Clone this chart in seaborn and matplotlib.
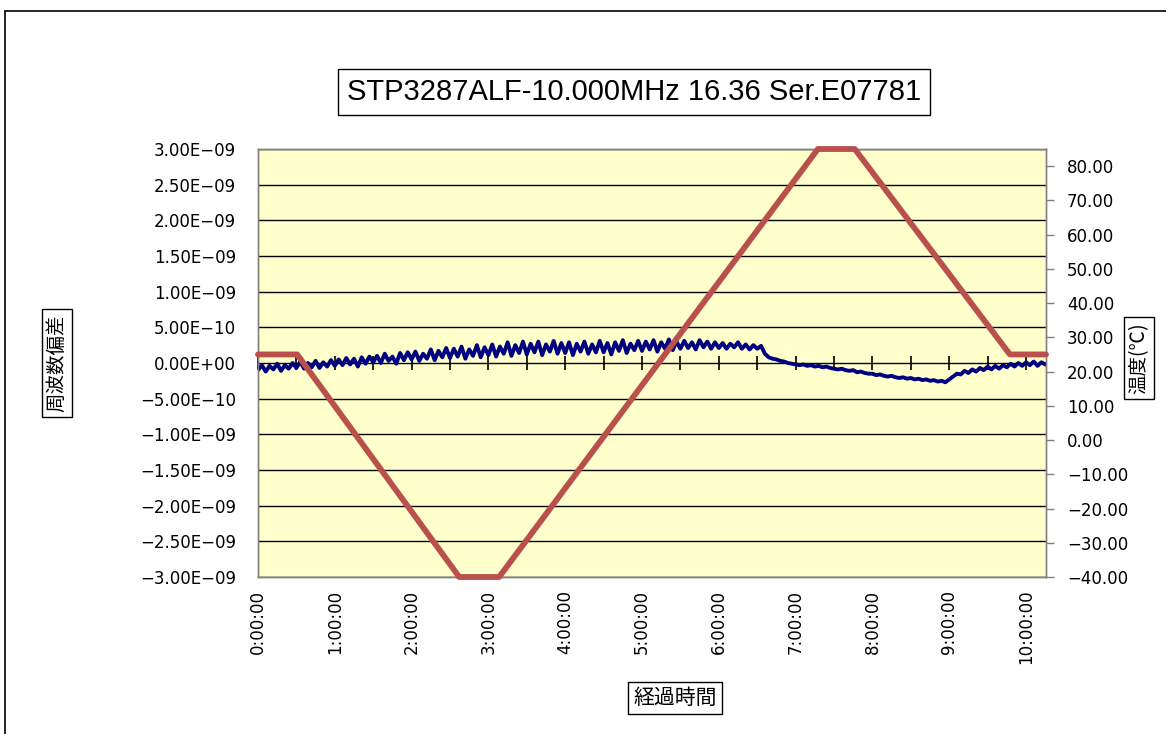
import numpy as np
import pandas as pd
import matplotlib
matplotlib.use("Agg")
import matplotlib.pyplot as plt
import seaborn as sns
from matplotlib.ticker import FixedLocator, FuncFormatter
from matplotlib.lines import Line2D

sns.set_theme(style="white")
plt.rcParams['font.family'] = ['DejaVu Sans', 'Noto Sans CJK JP']
plt.rcParams['axes.unicode_minus'] = True
plt.rcParams['text.color'] = 'black'
plt.rcParams['xtick.color'] = 'black'
plt.rcParams['ytick.color'] = 'black'
plt.rcParams['xtick.labelcolor'] = 'black'
plt.rcParams['ytick.labelcolor'] = 'black'

# ---------------- data ----------------
title = "STP3287ALF-10.000MHz 16.36 Ser.E07781"
y_left_label = "周波数偏差"
y_right_label = "温度(℃)"
x_label = "経過時間"

sample_step_h = 0.05  # one reading every 3 minutes
# frequency deviation, units of 1e-10, rows of 0.5 h
freq_dev_e10 = [
    -1.0, -0.3, -1.2, -0.4, -0.9, -0.1, -1.1, -0.3, -0.8, 0.0,
    -0.7, 0.2, -0.8, 0.0, -0.6, 0.3, -0.7, 0.1, -0.5, 0.4,
    -0.4, 0.5, -0.3, 0.7, -0.2, 0.6, -0.5, 0.8, -0.1, 0.9,
    0.1, 1.0, 0.0, 1.3, 0.3, 0.9, -0.1, 1.4, 0.4, 1.5,
    0.5, 1.6, 0.3, 1.3, 0.6, 1.9, 0.4, 1.7, 0.8, 2.1,
    0.7, 2.0, 0.9, 2.3, 0.6, 1.9, 1.0, 2.5, 0.8, 2.2,
    1.1, 2.6, 0.9, 2.3, 1.3, 2.9, 1.0, 2.5, 1.4, 3.0,
    1.2, 2.7, 1.5, 3.0, 1.1, 2.6, 1.6, 3.1, 1.3, 2.8,
    1.4, 2.9, 1.1, 2.7, 1.6, 3.0, 1.3, 2.6, 1.5, 3.1,
    1.5, 2.8, 1.2, 2.9, 1.7, 3.2, 1.4, 2.7, 1.8, 3.1,
    1.7, 3.0, 1.9, 3.2, 1.6, 2.9, 2.0, 3.3, 1.8, 3.0,
    2.0, 3.1, 2.1, 2.9, 1.9, 3.2, 2.2, 3.0, 2.0, 2.9,
    2.1, 2.8, 2.0, 2.7, 2.2, 2.9, 2.0, 2.6, 1.9, 2.5,
    2.0, 2.4, 1.3, 0.8, 0.6, 0.5, 0.3, 0.2, 0.0, -0.1,
    -0.2, -0.3, -0.2, -0.4, -0.3, -0.5, -0.4, -0.6, -0.5, -0.7,
    -0.8, -0.9, -0.8, -1.0, -1.1, -1.0, -1.3, -1.2, -1.4, -1.5,
    -1.5, -1.7, -1.6, -1.8, -1.9, -1.8, -2.0, -2.1, -2.0, -2.2,
    -2.1, -2.3, -2.2, -2.4, -2.3, -2.5, -2.4, -2.6, -2.5, -2.7,
    -2.3, -1.9, -1.5, -1.6, -1.1, -1.4, -0.9, -1.2, -0.7, -1.0,
    -0.5, -0.9, -0.4, -0.8, -0.3, -0.6, -0.1, -0.5, 0.0, -0.4,
    0.1, -0.3, 0.2, -0.4, 0.1, -0.2,
]
temp_time_h = [0.0, 0.51, 2.62, 3.14, 7.29, 7.77, 9.79, 10.26]
temp_c = [25, 25, -40, -40, 85, 85, 25, 25]

hour_ticks = list(range(0, 11))
hour_labels = [f"{h}:00:00" for h in hour_ticks]
left_ticks = [-3e-9, -2.5e-9, -2e-9, -1.5e-9, -1e-9, -5e-10, 0.0,
              5e-10, 1e-9, 1.5e-9, 2e-9, 2.5e-9, 3e-9]
right_ticks = [-40, -30, -20, -10, 0, 10, 20, 30, 40, 50, 60, 70, 80]

freq_df = pd.DataFrame({
    "time_h": np.arange(len(freq_dev_e10)) * sample_step_h,
    "freq": np.array(freq_dev_e10) * 1e-10,
})
temp_df = pd.DataFrame({"time_h": temp_time_h, "temp": temp_c})

# ---------------- figure ----------------
W, H = 1166, 734
fig = plt.figure(figsize=(W / 100, H / 100), dpi=100)
fig.patch.set_facecolor("white")

L, R, T, B = 258, 1046, 149, 577
ax = fig.add_axes([L / W, 1 - B / H, (R - L) / W, (B - T) / H])
ax.set_facecolor("#FFFFCC")

sns.lineplot(data=freq_df, x="time_h", y="freq", ax=ax, color="#000080",
             linewidth=2.8, zorder=3)
ax.set_xlim(0, 10.26)
ax.set_ylim(-3e-9, 3e-9)
ax.yaxis.set_major_locator(FixedLocator(left_ticks))
ax.yaxis.set_major_formatter(FuncFormatter(
    lambda v, p: f"{v:.2E}".replace("-", "\u2212")))
ax.xaxis.set_major_locator(FixedLocator(hour_ticks))
ax.set_xticklabels(hour_labels)
ax.grid(axis="y", color="black", linewidth=1.0)
ax.grid(axis="x", visible=False)
ax.set_axisbelow(True)
ax.tick_params(axis="x", length=0, pad=9, labelrotation=90, labelsize=12)
ax.tick_params(axis="y", length=0, pad=16, labelsize=12)
ax.set_xlabel("")
ax.set_ylabel("")
for s in ax.spines.values():
    s.set_color("#808080")
    s.set_linewidth(1.0)

# axis crossing at zero with half-hour tick marks
sec = ax.secondary_xaxis(0.5)
sec.xaxis.set_major_locator(FixedLocator(np.arange(0, 10.5, 0.5)))
sec.tick_params(axis="x", direction="inout", length=10, width=1.2,
                color="black", labelbottom=False, labeltop=False)
for s in sec.spines.values():
    s.set_visible(False)

ax2 = ax.twinx()
sns.lineplot(data=temp_df, x="time_h", y="temp", ax=ax2, color="#B9504C",
             linewidth=4.2, zorder=4, clip_on=False)
ax2.set_ylim(-40, 85)
ax2.yaxis.set_major_locator(FixedLocator(right_ticks))
ax2.yaxis.set_major_formatter(FuncFormatter(
    lambda v, p: f"{v:.2f}".replace("-", "\u2212")))
ax2.tick_params(axis="y", direction="out", length=6, width=1, color="#808080",
                pad=9, labelsize=12)
ax2.set_ylabel("")
ax2.set_xlabel("")
for s in ax2.spines.values():
    s.set_color("#808080")
    s.set_linewidth(1.0)

# title and axis titles (boxed, as in the spreadsheet chart)
fig.text(634 / W, 1 - 92 / H, title, ha="center", va="center", fontsize=21,
         family=["Liberation Sans", "DejaVu Sans"], color="black",
         bbox=dict(boxstyle="square,pad=0.3", fc="white", ec="black", lw=1))
jp = ["Noto Sans CJK JP", "DejaVu Sans"]
fig.text(57 / W, 1 - 363 / H, y_left_label, ha="center", va="center",
         rotation=90, fontsize=14, family=jp, color="black",
         bbox=dict(boxstyle="square,pad=0.25", fc="white", ec="black", lw=1))
fig.text(1139 / W, 1 - 358 / H, y_right_label, ha="center", va="center",
         rotation=90, fontsize=14, family=jp, color="black",
         bbox=dict(boxstyle="square,pad=0.25", fc="white", ec="black", lw=1))
fig.text(675 / W, 1 - 698 / H, x_label, ha="center", va="center",
         fontsize=15, family=jp, color="black",
         bbox=dict(boxstyle="square,pad=0.25", fc="white", ec="black", lw=1))

# chart-area frame (left and top edges visible)
fig.add_artist(Line2D([5 / W, 5 / W], [0, 1 - 11 / H], color="black", lw=1.2,
                      transform=fig.transFigure))
fig.add_artist(Line2D([5 / W, 1], [1 - 11 / H, 1 - 11 / H], color="black",
                      lw=1.2, transform=fig.transFigure))

fig.savefig("out.png", dpi=100)
